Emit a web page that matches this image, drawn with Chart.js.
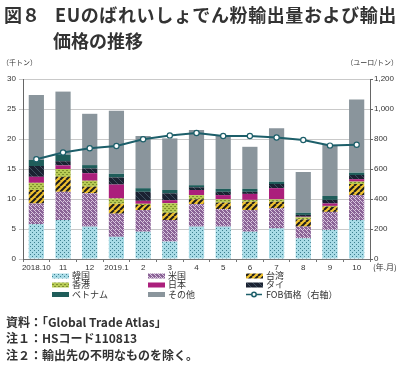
<!DOCTYPE html>
<html>
<head>
<meta charset="utf-8">
<script src="https://cdn.jsdelivr.net/npm/chart.js@4.4.0/dist/chart.umd.min.js"></script>
<style>
  body { margin: 0; background: #fff; }
  #wrap { position: relative; width: 400px; height: 369px; overflow: hidden;
          font-family: "Noto Sans CJK JP", "Liberation Sans", sans-serif; color: #333; }
  #c { position: absolute; left: 0; top: 0; }
  .t { position: absolute; white-space: nowrap; font-weight: bold; }
</style>
</head>
<body>
<div id="wrap">
  <canvas id="c" width="400" height="369"></canvas>
  <div class="t" style="left:4px;top:2px;font-size:18px;line-height:24px;">図８</div>
  <div class="t" style="left:55px;top:2px;font-size:18px;line-height:24px;letter-spacing:0.6px;">EUのばれいしょでん粉輸出量および輸出</div>
  <div class="t" style="left:53px;top:28px;font-size:18px;line-height:24px;">価格の推移</div>
  <div class="t" style="left:2px;top:57px;font-size:7px;font-weight:normal;">（千トン）</div>
  <div class="t" style="right:2px;top:57px;font-size:7px;font-weight:normal;">（ユーロ/トン）</div>
  <div class="t" style="left:6px;top:313px;font-size:12px;line-height:17px;">資料：「Global Trade Atlas」</div>
  <div class="t" style="left:6px;top:329px;font-size:12px;line-height:17px;">注１：HSコード110813</div>
  <div class="t" style="left:6px;top:346px;font-size:12px;line-height:17px;">注２：輸出先の不明なものを除く。</div>
</div>
<script>
// 月
const labels = ['2018.10', '11', '12', '2019.1', '2', '3', '4', '5', '6', '7', '8', '9', '10'];

// 輸出量（千トン）
const kankoku  = [5.8, 6.5, 5.4, 3.7, 4.55, 2.9, 5.4, 5.4, 4.55, 5.1, 3.45, 4.85, 6.5];
const beikoku  = [3.45, 4.7, 5.55, 3.85, 3.6, 3.6, 3.75, 2.9, 3.6, 3.35, 1.95, 3.0, 4.15];
const taiwan   = [2.25, 2.5, 1.1, 1.65, 0.85, 1.2, 0.8, 1.1, 1.4, 1.1, 1.2, 0.85, 1.85];
const honkon   = [1.2, 1.3, 1.0, 0.9, 0.2, 1.6, 0.7, 0.55, 0.3, 0.4, 0.35, 0.15, 0.4];
const nihon    = [1.0, 0.6, 1.25, 2.3, 0.5, 0.5, 0.85, 0.7, 1.0, 1.85, 0.1, 0.4, 0.4];
const tai      = [1.8, 0.7, 0.8, 1.2, 1.5, 1.15, 0.45, 0.55, 0.35, 0.7, 0.3, 0.6, 0.7];
const betonamu = [1.0, 1.1, 0.55, 0.6, 0.6, 0.55, 0.35, 0.5, 0.5, 0.4, 0.35, 0.65, 0.4];
const sonota   = [10.85, 10.5, 8.55, 10.5, 8.7, 8.6, 9.2, 8.9, 7.0, 8.9, 6.8, 8.5, 12.2];

// FOB価格（ユーロ/トン）
const fob = [665, 710, 738, 753, 798, 824, 840, 820, 820, 810, 793, 756, 762];

const leftTicks = [0, 5, 10, 15, 20, 25, 30];
const rightTicks = [0, 200, 400, 600, 800, 1000, 1200];

const ctx = document.getElementById('c').getContext('2d');

function pattern(bg, size, draw) {
    const c = document.createElement('canvas');
    c.width = size; c.height = size;
    const g = c.getContext('2d');
    g.fillStyle = bg;
    g.fillRect(0, 0, size, size);
    draw(g, size);
    return ctx.createPattern(c, 'repeat');
}

const pKankoku = pattern('#a8dbe6', 4, (g) => {
    g.fillStyle = '#3d7f8f';
    g.fillRect(0, 0, 1, 1);
    g.fillRect(2, 2, 1, 1);
});
const pBeikoku = pattern('#8a6396', 4, (g) => {
    g.fillStyle = '#d9c6df';
    g.fillRect(0, 0, 1, 1); g.fillRect(1, 1, 1, 1); g.fillRect(2, 2, 1, 1); g.fillRect(3, 3, 1, 1);
    g.fillRect(3, 1, 1, 1);
});
const pTaiwan = pattern('#f0c22f', 6, (g, s) => {
    g.strokeStyle = '#1d1d1d';
    g.lineWidth = 2;
    for (let k = -s; k <= s * 2; k += s) {
        g.beginPath(); g.moveTo(k, s); g.lineTo(k + s, 0); g.stroke();
    }
});
const pHonkon = pattern('#b7cb55', 4, (g) => {
    g.fillStyle = '#7d8f2c';
    g.fillRect(0, 0, 2, 1);
    g.fillRect(2, 2, 2, 1);
});
const pTai = pattern('#1b2232', 6, (g, s) => {
    g.strokeStyle = '#3e5060';
    g.lineWidth = 1;
    for (let k = -s; k <= s * 2; k += s) {
        g.beginPath(); g.moveTo(k, 0); g.lineTo(k + s, s); g.stroke();
    }
});

const legendPlugin = {
    id: 'gridLegend',
    afterDraw(chart) {
        const c = chart.ctx;
        const cols = [52, 148, 246];
        const rows = [276, 285, 294.5];
        c.save();
        c.font = '9px "Noto Sans CJK JP", sans-serif';
        c.textBaseline = 'middle';
        c.textAlign = 'left';
        chart.data.datasets.forEach((ds, i) => {
            const x = cols[i % 3];
            const y = rows[Math.floor(i / 3)];
            if (ds.type === 'line') {
                c.strokeStyle = ds.borderColor;
                c.lineWidth = 1.5;
                c.beginPath(); c.moveTo(x, y); c.lineTo(x + 16, y); c.stroke();
                c.fillStyle = '#fff';
                c.beginPath(); c.arc(x + 8, y, 2.2, 0, Math.PI * 2); c.fill(); c.stroke();
            } else {
                c.fillStyle = ds.backgroundColor;
                c.fillRect(x, y - 2.5, 17, 5);
            }
            c.fillStyle = '#333';
            c.fillText(ds.label, x + 20, y);
        });
        // 単位
        c.font = '8px "Noto Sans CJK JP", sans-serif';
        c.fillText('(年.月)', 373, 267);
        c.restore();
    }
};

const barDs = (label, data, color) => ({
    label: label, data: data, backgroundColor: color,
    yAxisID: 'y', order: 1, stack: 's'
});

new Chart(ctx, {
    type: 'bar',
    data: {
        labels: labels,
        datasets: [
            barDs('韓国', kankoku, pKankoku),
            barDs('米国', beikoku, pBeikoku),
            barDs('台湾', taiwan, pTaiwan),
            barDs('香港', honkon, pHonkon),
            barDs('日本', nihon, '#ab1f7c'),
            barDs('タイ', tai, pTai),
            barDs('ベトナム', betonamu, '#1f5d5a'),
            barDs('その他', sonota, '#8a959c'),
            {
                type: 'line', label: 'FOB価格（右軸）', data: fob, yAxisID: 'y1', order: 0,
                borderColor: '#1d5f6a', borderWidth: 2,
                pointRadius: 2.6, pointBorderWidth: 1.2,
                pointBackgroundColor: '#fff', pointBorderColor: '#1d5f6a'
            }
        ]
    },
    options: {
        responsive: false,
        animation: false,
        layout: { padding: { top: 79, left: 0, right: 0, bottom: 96 } },
        plugins: { legend: { display: false }, tooltip: { enabled: false } },
        datasets: { bar: { categoryPercentage: 0.57, barPercentage: 1 } },
        scales: {
            x: {
                stacked: true,
                afterFit(s) { s.height = 14; },
                grid: { drawOnChartArea: false, drawTicks: true, tickLength: 3, color: '#777', offset: true },
                border: { color: '#777', width: 1 },
                ticks: { color: '#333', font: { size: 8, family: 'Liberation Sans' }, padding: 1, maxRotation: 0, autoSkip: false }
            },
            y: {
                stacked: true, position: 'left', min: 0, max: 30,
                afterFit(s) { s.width = 23; },
                afterBuildTicks(s) { s.ticks = leftTicks.map(v => ({ value: v })); },
                grid: { color: '#c9c9c9', lineWidth: 1, tickLength: 4 },
                border: { color: '#666', width: 1 },
                ticks: { color: '#333', font: { size: 8, family: 'Liberation Sans' }, padding: 3 }
            },
            y1: {
                position: 'right', min: 0, max: 1200,
                afterFit(s) { s.width = 30; },
                afterBuildTicks(s) { s.ticks = rightTicks.map(v => ({ value: v })); },
                grid: { drawOnChartArea: false, tickLength: 3, color: '#666' },
                border: { color: '#666', width: 1 },
                ticks: { color: '#333', font: { size: 8, family: 'Liberation Sans' }, padding: 1,
                         callback: v => v.toLocaleString('en-US') }
            }
        }
    },
    plugins: [legendPlugin]
});
</script>
</body>
</html>
